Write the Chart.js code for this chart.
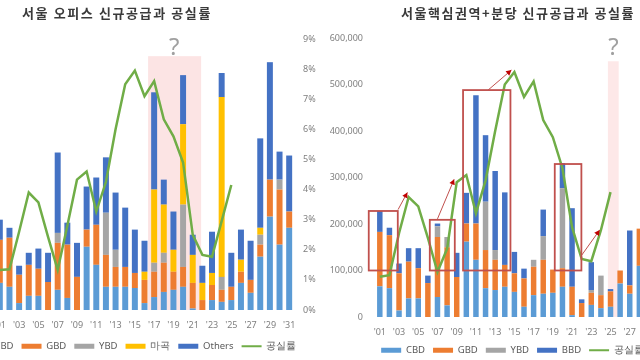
<!DOCTYPE html>
<html>
<head>
<meta charset="utf-8">
<script src="https://cdn.jsdelivr.net/npm/chart.js@4"></script>
<style>
  html, body { margin: 0; padding: 0; background: #fff; }
  #wrap { position: relative; width: 640px; height: 360px; overflow: hidden; background: #fff; }
  canvas { position: absolute; top: 0; }
  #leftChart { left: -50px; }
  #rightChart { left: 330px; }
  .title { position: absolute; top: 3px; font-family: "Noto Sans CJK KR"; font-weight: 700; font-size: 13px; color: #3a3a3a; white-space: nowrap; }
</style>
</head>
<body>
<div id="wrap">
  <canvas id="leftChart" width="366" height="361"></canvas>
  <canvas id="rightChart" width="365" height="365"></canvas>
  <div class="title" id="t1" style="left:22px">서울 오피스 신규공급과 공실률</div>
  <div class="title" id="t2" style="left:401px">서울핵심권역+분당 신규공급과 공실률</div>
</div>
<script>
// years on the x axis (only every other one is labelled)
const years = ["'01","'02","'03","'04","'05","'06","'07","'08","'09","'10",
  "'11","'12","'13","'14","'15","'16","'17","'18","'19","'20",
  "'21","'22","'23","'24","'25","'26","'27","'28","'29","'30","'31"];

// left chart: Seoul office new supply (relative units) and vacancy rate (%)
const seoulCbd    = [9, 7.7, 2.3, 4.7, 4.7, 0, 6.7, 4, 0, 21, 15, 7.7, 7.7, 7.7, 7.3, 2.3, 4.3, 6, 6.7, 7.7, 0.5, 0, 3.3, 2.7, 3.3, 9, 5.7, 17.7, 31, 21.7, 27.3];
const seoulGbd    = [14.3, 16.3, 9.4, 10.3, 9, 9.3, 15.6, 17.7, 11, 5.7, 13.3, 10.6, 6.6, 6.6, 5, 7.7, 8.4, 9.7, 6, 6.6, 8.5, 3.3, 5, 4, 4.4, 3.7, 4.3, 4, 12.3, 18.3, 5.4];
const seoulYbd    = [0, 0, 0, 0, 0, 0, 3.3, 0, 0, 0, 0, 14, 5.7, 0, 0, 0, 3, 3.3, 0, 20.7, 0, 0, 0, 4.3, 0, 0, 0, 3.3, 0, 3.3, 0];
const seoulMagok  = [0, 0, 0, 0, 0, 0, 0, 0, 0, 0, 0, 0, 0, 0, 0, 2.7, 24.3, 16, 7.3, 26.7, 9.3, 5.7, 4, 59.7, 0, 4, 0, 2.3, 0, 0, 0];
const seoulOthers = [6.7, 3.3, 3, 4, 6.7, 9.7, 26.7, 7.3, 11.3, 14.3, 15.7, 18.4, 19, 19.7, 14.4, 10.3, 32.3, 8.3, 12.7, 16.3, 6.7, 5.7, 13.7, 8, 11.3, 10, 13, 29.7, 39, 9.3, 18.6];
const seoulVacancy = [1.33, 1.35, 2.6, 3.9, 3.57, 2.43, 1.33, 2.8, 4.33, 4.6, 3.27, 4.25, 6.0, 7.5, 7.95, 7.1, 7.6, 6.33, 5.77, 4.9, 2.5, 1.83, 1.77, 2.95, 4.15, null, null, null, null, null, null];
const pctTicks = [0, 1, 2, 3, 4, 5, 6, 7, 8, 9];

// right chart: core districts + Bundang new supply and vacancy rate (%)
const coreCbd = [66000, 62000, 14000, 40000, 40000, 0, 43000, 25000, 0, 162000, 123000, 62000, 58000, 65000, 54000, 22000, 47000, 50000, 52000, 65000, 4000, 0, 26000, 19000, 22000, 72000, 50000, 110000, null, null, null];
const coreGbd = [117000, 114000, 80000, 79000, 65000, 73000, 129000, 125000, 86000, 39000, 78000, 82000, 65000, 47000, 40000, 61000, 61000, 73000, 50000, 40000, 61000, 30000, 26000, 28000, 33000, 28000, 18000, 80000, null, null, null];
const coreYbd = [0, 0, 0, 0, 0, 0, 23000, 22000, 0, 0, 0, 104000, 21000, 0, 0, 0, 15000, 51000, 0, 172000, 0, 0, 6000, 42000, 0, 0, 0, 0, null, null, null];
const coreBbd = [45000, 16000, 21000, 29000, 43000, 16000, 6000, 0, 52000, 66000, 276000, 143000, 170000, 156000, 46000, 21000, 0, 57000, 0, 54000, 169000, 8000, 60000, 0, 5000, 0, 118000, 0, null, null, null];
const coreVacancy = [1.3, 1.35, 2.7, 3.87, 3.57, 2.55, 1.45, 2.2, 4.35, 4.58, 3.35, 4.4, 6.0, 7.5, 7.9, 7.1, 7.6, 6.35, 5.8, 4.8, 2.9, 1.87, 1.8, 2.8, 4.03, null, null, null, null, null, null];
const supplyTicks = [0, 100000, 200000, 300000, 400000, 500000, 600000];

const C = { cbd: '#5b9bd5', gbd: '#ed7d31', ybd: '#a5a5a5', magok: '#ffc000', others: '#4472c4', line: '#70ad47' };
const tickColor = '#7f7f7f';

function bar(label, data, color) {
  return { label, data, backgroundColor: color, borderWidth: 0, yAxisID: 'y', order: 1 };
}
function line(data) {
  return { type: 'line', label: '공실률', data, yAxisID: 'y1', borderColor: C.line, backgroundColor: C.line,
    borderWidth: 2.5, pointRadius: 0, tension: 0, order: 0 };
}
// wide flat boxes for the bars, a short stroke for the line, in dataset order
function legendLabels(chart) {
  const items = Chart.defaults.plugins.legend.labels.generateLabels(chart);
  items.forEach(it => {
    const isLine = chart.data.datasets[it.datasetIndex].type === 'line';
    it.pointStyle = isLine ? 'line' : 'rect';
    it.lineWidth = isLine ? 2 : 0;
  });
  return items.sort((a, b) => a.datasetIndex - b.datasetIndex);
}

// shaded "?" band, red boxes and arrows, placed in data coordinates
const overlayPlugin = {
  id: 'overlay',
  beforeDatasetsDraw(chart, args, opts) {
    const ctx = chart.ctx, x = chart.scales.x, y = chart.scales[opts.axis];
    const b = opts.band;
    if (!b) return;
    const l = x.getPixelForValue(b.from), r = x.getPixelForValue(b.to);
    const t = y.getPixelForValue(b.top), bt = y.getPixelForValue(0);
    ctx.save();
    ctx.fillStyle = b.color;
    ctx.fillRect(l, t, r - l, bt - t);
    ctx.fillStyle = '#a0a0a0';
    ctx.font = '24px "Noto Sans"';
    ctx.textAlign = 'center';
    ctx.textBaseline = 'middle';
    ctx.fillText('?', x.getPixelForValue(b.markX), y.getPixelForValue(b.markY));
    ctx.restore();
  },
  afterDatasetsDraw(chart, args, opts) {
    const ctx = chart.ctx, x = chart.scales.x, y = chart.scales[opts.axis];
    ctx.save();
    ctx.strokeStyle = '#c0504d';
    ctx.lineWidth = 1.8;
    (opts.boxes || []).forEach(bx => {
      const l = x.getPixelForValue(bx.from), r = x.getPixelForValue(bx.to);
      const t = y.getPixelForValue(bx.top), bt = y.getPixelForValue(bx.bottom);
      ctx.strokeRect(l, t, r - l, bt - t);
    });
    ctx.lineWidth = 1;
    ctx.fillStyle = '#c00000';
    (opts.arrows || []).forEach(a => {
      const x0 = x.getPixelForValue(a.from[0]), y0 = y.getPixelForValue(a.from[1]);
      const x1 = x.getPixelForValue(a.to[0]), y1 = y.getPixelForValue(a.to[1]);
      ctx.beginPath(); ctx.moveTo(x0, y0); ctx.lineTo(x1, y1); ctx.stroke();
      const ang = Math.atan2(y1 - y0, x1 - x0), h = 6;
      ctx.beginPath();
      ctx.moveTo(x1, y1);
      ctx.lineTo(x1 - h * Math.cos(ang - 0.5), y1 - h * Math.sin(ang - 0.5));
      ctx.lineTo(x1 - h * Math.cos(ang + 0.5), y1 - h * Math.sin(ang + 0.5));
      ctx.closePath(); ctx.fill();
    });
    ctx.restore();
  }
};

// x axis: labels sit 15px under the plot, the axis box height sets the gap to the legend
function xAxis(height) {
  return { stacked: true, grid: { display: false, drawTicks: false }, border: { display: false },
    afterFit: s => { s.height = height; },
    ticks: { autoSkip: false, maxRotation: 0, padding: 9.6, color: tickColor,
      font: { family: 'Noto Sans', size: 9, lineHeight: 1.2 },
      callback: (v, i) => i % 2 === 0 ? years[i] : '' } };
}
function pctAxis() {
  return { position: 'right', min: 0, max: 9, grid: { display: false, drawTicks: false }, border: { display: false },
    afterBuildTicks: s => { s.ticks = pctTicks.map(v => ({ value: v })); },
    afterFit: s => { s.width = 22; },
    ticks: { padding: 9, color: tickColor, font: { family: 'Noto Sans', size: 9 }, callback: v => v + '%' } };
}
function legend() {
  return { position: 'bottom', labels: { usePointStyle: true, pointStyleWidth: 20, boxWidth: 20, boxHeight: 5,
    padding: 8, color: '#595959', font: { family: 'Noto Sans', size: 9.5 }, generateLabels: legendLabels } };
}

new Chart(document.getElementById('leftChart'), {
  type: 'bar',
  data: {
    labels: years,
    datasets: [
      bar('CBD', seoulCbd, C.cbd), bar('GBD', seoulGbd, C.gbd), bar('YBD', seoulYbd, C.ybd),
      bar('마곡', seoulMagok, C.magok), bar('Others', seoulOthers, C.others), line(seoulVacancy)
    ]
  },
  options: {
    responsive: false, animation: false,
    layout: { padding: { left: 0, top: 39, right: 0, bottom: 0 } },
    datasets: { bar: { barPercentage: 0.62, categoryPercentage: 1 } },
    scales: {
      x: xAxis(23.5),
      y: { stacked: true, min: 0, max: 90, grid: { display: false, drawTicks: false }, border: { display: false },
        ticks: { display: false }, afterFit: s => { s.width = 45; } },
      y1: pctAxis()
    },
    plugins: {
      legend: legend(), tooltip: { enabled: false },
      overlay: { axis: 'y1', band: { from: 15.37, to: 20.87, top: 8.43, color: 'rgba(250,205,205,0.55)', markX: 18.07, markY: 8.7 } }
    }
  },
  plugins: [overlayPlugin]
});

new Chart(document.getElementById('rightChart'), {
  type: 'bar',
  data: {
    labels: years,
    datasets: [
      bar('CBD', coreCbd, C.cbd), bar('GBD', coreGbd, C.gbd), bar('YBD', coreYbd, C.ybd),
      bar('BBD', coreBbd, C.others), line(coreVacancy)
    ]
  },
  options: {
    responsive: false, animation: false,
    layout: { padding: { left: 0, top: 38, right: 0, bottom: 0 } },
    datasets: { bar: { barPercentage: 0.57, categoryPercentage: 1 } },
    scales: {
      x: xAxis(20.5),
      y: { stacked: true, min: 0, max: 600000, grid: { display: false, drawTicks: false }, border: { display: false },
        afterBuildTicks: s => { s.ticks = supplyTicks.map(v => ({ value: v })); },
        afterFit: s => { s.width = 45; },
        ticks: { padding: 12, color: tickColor, font: { family: 'Noto Sans', size: 9 }, callback: v => v.toLocaleString('en-US') } },
      y1: pctAxis()
    },
    plugins: {
      legend: legend(), tooltip: { enabled: false },
      overlay: {
        axis: 'y',
        band: { from: 23.73, to: 24.85, top: 550000, color: 'rgba(250,205,205,0.45)', markX: 24.3, markY: 578000 },
        boxes: [
          { from: -1.15, to: 1.87, bottom: 100000, top: 228000 },
          { from: 5.2, to: 7.8, bottom: 100000, top: 209000 },
          { from: 8.66, to: 13.59, bottom: 100000, top: 488000 },
          { from: 18.2, to: 20.97, bottom: 100000, top: 329000 }
        ],
        arrows: [
          { from: [1.9, 231000], to: [2.87, 268000] },
          { from: [6.0, 211000], to: [7.73, 296000] },
          { from: [11.26, 488000], to: [13.69, 531000] },
          { from: [20.9, 130000], to: [22.87, 187000] }
        ]
      }
    }
  },
  plugins: [overlayPlugin]
});

// stretch the titles to the widths they take in the picture
function fitTitle(id, target) {
  const el = document.getElementById(id);
  const n = el.textContent.length;
  const w = el.getBoundingClientRect().width;
  el.style.letterSpacing = ((target - w) / n) + 'px';
}
fitTitle('t1', 190);
fitTitle('t2', 234);
</script>
</body>
</html>
